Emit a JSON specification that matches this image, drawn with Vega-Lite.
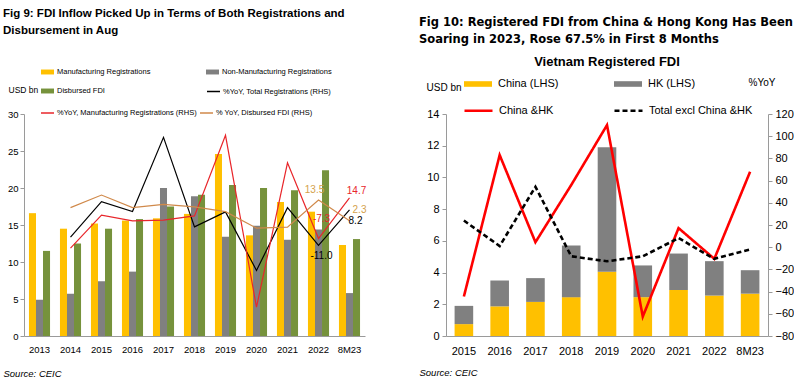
{
  "$schema": "https://vega.github.io/schema/vega-lite/v6.json",
  "padding": {"left": 3, "top": 8, "right": 0, "bottom": 0},
  "spacing": 52,
  "config": {
    "view": {"stroke": null},
    "font": "Liberation Sans",
    "axis": {"grid": false, "domainColor": "#9a9a9a", "tickColor": "#9a9a9a", "labelColor": "#000000", "titleColor": "#000000", "titleFontWeight": "normal", "labelFont": "Liberation Sans", "titleFont": "Liberation Sans"},
    "legend": {"labelColor": "#000000", "labelFont": "Liberation Sans"},
    "text": {"font": "Liberation Sans"}
  },
  "hconcat": [
    {
      "title": {"text": ["Fig 9: FDI Inflow Picked Up in Terms of Both Registrations and", "Disbursement in Aug"], "anchor": "start", "frame": "bounds", "font": "Liberation Sans", "fontSize": 11.5, "fontWeight": "bold", "lineHeight": 17, "offset": 28, "color": "#000000"},
      "width": 341,
      "height": 222,
      "layer": [
        {
          "data": {"values": [
            {"year": "2013", "series": "Manufacturing Registrations", "value": 16.6},
            {"year": "2013", "series": "Non-Manufacturing Registrations", "value": 4.9},
            {"year": "2013", "series": "Disbursed FDI", "value": 11.5},
            {"year": "2014", "series": "Manufacturing Registrations", "value": 14.5},
            {"year": "2014", "series": "Non-Manufacturing Registrations", "value": 5.7},
            {"year": "2014", "series": "Disbursed FDI", "value": 12.5},
            {"year": "2015", "series": "Manufacturing Registrations", "value": 15.2},
            {"year": "2015", "series": "Non-Manufacturing Registrations", "value": 7.4},
            {"year": "2015", "series": "Disbursed FDI", "value": 14.5},
            {"year": "2016", "series": "Manufacturing Registrations", "value": 15.6},
            {"year": "2016", "series": "Non-Manufacturing Registrations", "value": 8.7},
            {"year": "2016", "series": "Disbursed FDI", "value": 15.8},
            {"year": "2017", "series": "Manufacturing Registrations", "value": 15.9},
            {"year": "2017", "series": "Non-Manufacturing Registrations", "value": 20.0},
            {"year": "2017", "series": "Disbursed FDI", "value": 17.5},
            {"year": "2018", "series": "Manufacturing Registrations", "value": 16.5},
            {"year": "2018", "series": "Non-Manufacturing Registrations", "value": 18.9},
            {"year": "2018", "series": "Disbursed FDI", "value": 19.1},
            {"year": "2019", "series": "Manufacturing Registrations", "value": 24.6},
            {"year": "2019", "series": "Non-Manufacturing Registrations", "value": 13.4},
            {"year": "2019", "series": "Disbursed FDI", "value": 20.4},
            {"year": "2020", "series": "Manufacturing Registrations", "value": 13.6},
            {"year": "2020", "series": "Non-Manufacturing Registrations", "value": 14.9},
            {"year": "2020", "series": "Disbursed FDI", "value": 20.0},
            {"year": "2021", "series": "Manufacturing Registrations", "value": 18.1},
            {"year": "2021", "series": "Non-Manufacturing Registrations", "value": 13.0},
            {"year": "2021", "series": "Disbursed FDI", "value": 19.7},
            {"year": "2022", "series": "Manufacturing Registrations", "value": 16.8},
            {"year": "2022", "series": "Non-Manufacturing Registrations", "value": 14.4},
            {"year": "2022", "series": "Disbursed FDI", "value": 22.4},
            {"year": "8M23", "series": "Manufacturing Registrations", "value": 12.3},
            {"year": "8M23", "series": "Non-Manufacturing Registrations", "value": 5.8},
            {"year": "8M23", "series": "Disbursed FDI", "value": 13.1}
          ]},
          "mark": {"type": "bar"},
          "encoding": {
            "x": {"field": "year", "type": "ordinal",
              "scale": {"domain": ["2013", "2014", "2015", "2016", "2017", "2018", "2019", "2020", "2021", "2022", "8M23"], "paddingInner": 0.32, "paddingOuter": 0.16},
              "axis": {"title": "Source: CEIC", "labelAngle": 0, "ticks": false, "labelFontSize": 9.5, "labelPadding": 8, "titleFontSize": 9.5, "titleFontStyle": "italic", "titleAnchor": "start", "titleAlign": "left", "titleBaseline": "middle", "titleX": -21, "titleY": 37}},
            "xOffset": {"field": "series", "type": "nominal", "scale": {"domain": ["Manufacturing Registrations", "Non-Manufacturing Registrations", "Disbursed FDI"], "paddingInner": 0, "paddingOuter": 0}},
            "y": {"field": "value", "type": "quantitative",
              "scale": {"domain": [0, 30], "nice": false},
              "axis": {"title": "USD bn", "values": [0, 5, 10, 15, 20, 25, 30], "tickSize": 4, "labelPadding": 2, "labelFontSize": 9.5, "titleAngle": 0, "titleAlign": "left", "titleBaseline": "middle", "titleX": -16, "titleY": -25, "titleFontSize": 8.5}},
            "color": {"field": "series", "type": "nominal",
              "scale": {"domain": ["Manufacturing Registrations", "Non-Manufacturing Registrations", "Disbursed FDI"], "range": ["#FFC000", "#808080", "#76923C"]},
              "legend": {"orient": "none", "legendX": 16, "legendY": -49.5, "columns": 2, "direction": "horizontal", "title": null, "symbolType": "M-1,-0.38H1V0.38H-1Z", "symbolSize": 169, "labelFontSize": 7.5, "labelLimit": 400, "labelOffset": 2, "rowPadding": 8, "columnPadding": 54}}
          }
        },
        {
          "layer": [
            {
              "data": {"values": [
                {"year": "2014", "series": "%YoY, Total Registrations (RHS)", "yoy": -6.5},
                {"year": "2015", "series": "%YoY, Total Registrations (RHS)", "yoy": 12.6},
                {"year": "2016", "series": "%YoY, Total Registrations (RHS)", "yoy": 7.3},
                {"year": "2017", "series": "%YoY, Total Registrations (RHS)", "yoy": 47.4},
                {"year": "2018", "series": "%YoY, Total Registrations (RHS)", "yoy": -1.0},
                {"year": "2019", "series": "%YoY, Total Registrations (RHS)", "yoy": 7.1},
                {"year": "2020", "series": "%YoY, Total Registrations (RHS)", "yoy": -24.6},
                {"year": "2021", "series": "%YoY, Total Registrations (RHS)", "yoy": 9.4},
                {"year": "2022", "series": "%YoY, Total Registrations (RHS)", "yoy": -11.0},
                {"year": "8M23", "series": "%YoY, Total Registrations (RHS)", "yoy": 8.2}
              ]},
              "mark": {"type": "line", "strokeWidth": 1.2},
              "encoding": {
                "x": {"field": "year", "type": "ordinal"},
                "y": {"field": "yoy", "type": "quantitative",
                  "scale": {"domain": [-60, 60], "nice": false},
                  "axis": {"orient": "right", "title": "%YoY", "values": [-60, -40, -20, 0, 20, 40, 60], "tickSize": 4, "labelPadding": 2, "labelFontSize": 9.5, "titleAngle": 0, "titleAlign": "left", "titleBaseline": "middle", "titleX": -20, "titleY": -25, "titleFontSize": 8.5}},
                "stroke": {"field": "series", "type": "nominal",
                  "scale": {"domain": ["%YoY, Total Registrations (RHS)"], "range": ["#000000"]},
                  "legend": {"orient": "none", "legendX": 182, "legendY": -30, "title": null, "symbolType": "stroke", "symbolSize": 169, "symbolStrokeWidth": 1.5, "labelFontSize": 7.5, "labelLimit": 400, "labelOffset": 2}}
              }
            },
            {
              "data": {"values": [
                {"year": "2014", "series": "%YoY, Manufacturing Registrations (RHS)", "yoy": -12.5},
                {"year": "2015", "series": "%YoY, Manufacturing Registrations (RHS)", "yoy": 5.3},
                {"year": "2016", "series": "%YoY, Manufacturing Registrations (RHS)", "yoy": 2.2},
                {"year": "2017", "series": "%YoY, Manufacturing Registrations (RHS)", "yoy": 2.6},
                {"year": "2018", "series": "%YoY, Manufacturing Registrations (RHS)", "yoy": 4.9},
                {"year": "2019", "series": "%YoY, Manufacturing Registrations (RHS)", "yoy": 48.5},
                {"year": "2020", "series": "%YoY, Manufacturing Registrations (RHS)", "yoy": -44.4},
                {"year": "2021", "series": "%YoY, Manufacturing Registrations (RHS)", "yoy": 33.6},
                {"year": "2022", "series": "%YoY, Manufacturing Registrations (RHS)", "yoy": -7.3},
                {"year": "8M23", "series": "%YoY, Manufacturing Registrations (RHS)", "yoy": 14.7},
                {"year": "2014", "series": "% YoY, Disbursed FDI (RHS)", "yoy": 9.4},
                {"year": "2015", "series": "% YoY, Disbursed FDI (RHS)", "yoy": 16.2},
                {"year": "2016", "series": "% YoY, Disbursed FDI (RHS)", "yoy": 9.4},
                {"year": "2017", "series": "% YoY, Disbursed FDI (RHS)", "yoy": 11.2},
                {"year": "2018", "series": "% YoY, Disbursed FDI (RHS)", "yoy": 9.8},
                {"year": "2019", "series": "% YoY, Disbursed FDI (RHS)", "yoy": 7.2},
                {"year": "2020", "series": "% YoY, Disbursed FDI (RHS)", "yoy": -1.7},
                {"year": "2021", "series": "% YoY, Disbursed FDI (RHS)", "yoy": -1.2},
                {"year": "2022", "series": "% YoY, Disbursed FDI (RHS)", "yoy": 13.5},
                {"year": "8M23", "series": "% YoY, Disbursed FDI (RHS)", "yoy": 2.3}
              ]},
              "mark": {"type": "line", "strokeWidth": 1.2},
              "encoding": {
                "x": {"field": "year", "type": "ordinal"},
                "y": {"field": "yoy", "type": "quantitative", "axis": null},
                "color": {"field": "series", "type": "nominal",
                  "scale": {"domain": ["%YoY, Manufacturing Registrations (RHS)", "% YoY, Disbursed FDI (RHS)"], "range": ["#E8262B", "#D0894A"]},
                  "legend": {"orient": "none", "legendX": 16, "legendY": -8.5, "columns": 2, "direction": "horizontal", "title": null, "symbolType": "stroke", "symbolSize": 169, "symbolStrokeWidth": 1.5, "labelFontSize": 7.5, "labelLimit": 400, "labelOffset": 2, "columnPadding": 0}}
              }
            },
            {
              "data": {"values": [{"year": "2022", "yoy": 13.5, "label": "13.5"}]},
              "mark": {"type": "text", "dx": -4, "dy": -10, "fontSize": 10, "color": "#D4A24C"},
              "encoding": {"x": {"field": "year", "type": "ordinal"}, "y": {"field": "yoy", "type": "quantitative", "axis": null}, "text": {"field": "label"}}
            },
            {
              "data": {"values": [{"year": "2022", "yoy": -7.3, "label": "-7.3"}]},
              "mark": {"type": "text", "dx": 3, "dy": -20, "fontSize": 10, "color": "#E8262B"},
              "encoding": {"x": {"field": "year", "type": "ordinal"}, "y": {"field": "yoy", "type": "quantitative", "axis": null}, "text": {"field": "label"}}
            },
            {
              "data": {"values": [{"year": "2022", "yoy": -11.0, "label": "-11.0"}]},
              "mark": {"type": "text", "dx": 3, "dy": 11, "fontSize": 10, "color": "#000000"},
              "encoding": {"x": {"field": "year", "type": "ordinal"}, "y": {"field": "yoy", "type": "quantitative", "axis": null}, "text": {"field": "label"}}
            },
            {
              "data": {"values": [{"year": "8M23", "yoy": 14.7, "label": "14.7"}]},
              "mark": {"type": "text", "dx": 7, "dy": -7, "fontSize": 10, "color": "#E8262B"},
              "encoding": {"x": {"field": "year", "type": "ordinal"}, "y": {"field": "yoy", "type": "quantitative", "axis": null}, "text": {"field": "label"}}
            },
            {
              "data": {"values": [{"year": "8M23", "yoy": 2.3, "label": "2.3"}]},
              "mark": {"type": "text", "dx": 10, "dy": -11, "fontSize": 10, "color": "#D4A24C"},
              "encoding": {"x": {"field": "year", "type": "ordinal"}, "y": {"field": "yoy", "type": "quantitative", "axis": null}, "text": {"field": "label"}}
            },
            {
              "data": {"values": [{"year": "8M23", "yoy": 8.2, "label": "8.2"}]},
              "mark": {"type": "text", "dx": 6, "dy": 11, "fontSize": 10, "color": "#000000"},
              "encoding": {"x": {"field": "year", "type": "ordinal"}, "y": {"field": "yoy", "type": "quantitative", "axis": null}, "text": {"field": "label"}}
            }
          ]
        }
      ],
      "resolve": {"scale": {"y": "independent", "color": "independent"}, "axis": {"y": "independent"}, "legend": {"color": "independent"}}
    },
    {
      "title": {"text": ["Fig 10: Registered FDI from China & Hong Kong Has Been", "Soaring in 2023, Rose 67.5% in First 8 Months"], "anchor": "start", "frame": "bounds", "font": "DejaVu Sans", "fontSize": 11.5, "fontWeight": "bold", "lineHeight": 17, "offset": 11, "color": "#000000"},
      "vconcat": [
        {
          "title": {"text": "Vietnam Registered FDI", "fontSize": 13, "fontWeight": "bold", "anchor": "middle", "offset": 0, "color": "#000000"},
          "width": 322,
          "height": 222,
          "layer": [
            {
              "data": {"values": [
                {"year": "2015", "series": "China (LHS)", "value": 0.75},
                {"year": "2015", "series": "HK (LHS)", "value": 1.15},
                {"year": "2016", "series": "China (LHS)", "value": 1.87},
                {"year": "2016", "series": "HK (LHS)", "value": 1.63},
                {"year": "2017", "series": "China (LHS)", "value": 2.15},
                {"year": "2017", "series": "HK (LHS)", "value": 1.5},
                {"year": "2018", "series": "China (LHS)", "value": 2.45},
                {"year": "2018", "series": "HK (LHS)", "value": 3.25},
                {"year": "2019", "series": "China (LHS)", "value": 4.05},
                {"year": "2019", "series": "HK (LHS)", "value": 7.85},
                {"year": "2020", "series": "China (LHS)", "value": 2.45},
                {"year": "2020", "series": "HK (LHS)", "value": 2.0},
                {"year": "2021", "series": "China (LHS)", "value": 2.9},
                {"year": "2021", "series": "HK (LHS)", "value": 2.3},
                {"year": "2022", "series": "China (LHS)", "value": 2.55},
                {"year": "2022", "series": "HK (LHS)", "value": 2.17},
                {"year": "8M23", "series": "China (LHS)", "value": 2.67},
                {"year": "8M23", "series": "HK (LHS)", "value": 1.48}
              ]},
              "mark": {"type": "bar"},
              "encoding": {
                "x": {"field": "year", "type": "ordinal",
                  "scale": {"domain": ["2015", "2016", "2017", "2018", "2019", "2020", "2021", "2022", "8M23"], "paddingInner": 0.48, "paddingOuter": 0.24},
                  "axis": {"title": "Source: CEIC", "labelAngle": 0, "ticks": false, "labelFontSize": 11, "labelPadding": 9, "titleFontSize": 9.5, "titleFontStyle": "italic", "titleAnchor": "start", "titleAlign": "left", "titleBaseline": "middle", "titleX": -27, "titleY": 36}},
                "y": {"field": "value", "type": "quantitative", "stack": "zero",
                  "scale": {"domain": [0, 14], "nice": false},
                  "axis": {"title": "USD bn", "values": [0, 2, 4, 6, 8, 10, 12, 14], "tickSize": 4, "labelPadding": 3, "labelFontSize": 11, "titleAngle": 0, "titleAlign": "left", "titleBaseline": "middle", "titleX": -20, "titleY": -27, "titleFontSize": 10}},
                "order": {"field": "series", "sort": "ascending"},
                "color": {"field": "series", "type": "nominal",
                  "scale": {"domain": ["China (LHS)", "HK (LHS)"], "range": ["#FFC000", "#808080"]},
                  "legend": {"orient": "none", "legendX": 17, "legendY": -45, "columns": 2, "direction": "horizontal", "title": null, "symbolType": "M-1,-0.2H1V0.2H-1Z", "symbolSize": 784, "labelFontSize": 11, "labelLimit": 400, "labelOffset": 5, "columnPadding": 54}}
              }
            },
            {
              "data": {"values": [
                {"year": "2015", "series": "China &HK", "yoy": -44.4},
                {"year": "2016", "series": "China &HK", "yoy": 83},
                {"year": "2017", "series": "China &HK", "yoy": 4.5},
                {"year": "2018", "series": "China &HK", "yoy": 56},
                {"year": "2019", "series": "China &HK", "yoy": 110},
                {"year": "2020", "series": "China &HK", "yoy": -62.5},
                {"year": "2021", "series": "China &HK", "yoy": 17.2},
                {"year": "2022", "series": "China &HK", "yoy": -10.5},
                {"year": "8M23", "series": "China &HK", "yoy": 68},
                {"year": "2015", "series": "Total excl China &HK", "yoy": 24},
                {"year": "2016", "series": "Total excl China &HK", "yoy": 1},
                {"year": "2017", "series": "Total excl China &HK", "yoy": 54.4},
                {"year": "2018", "series": "Total excl China &HK", "yoy": -8.2},
                {"year": "2019", "series": "Total excl China &HK", "yoy": -12.7},
                {"year": "2020", "series": "Total excl China &HK", "yoy": -8.2},
                {"year": "2021", "series": "Total excl China &HK", "yoy": 8.2},
                {"year": "2022", "series": "Total excl China &HK", "yoy": -10.5},
                {"year": "8M23", "series": "Total excl China &HK", "yoy": -2}
              ]},
              "mark": {"type": "line", "strokeWidth": 2.6},
              "encoding": {
                "x": {"field": "year", "type": "ordinal"},
                "y": {"field": "yoy", "type": "quantitative",
                  "scale": {"domain": [-80, 120], "nice": false},
                  "axis": {"orient": "right", "title": "%YoY", "values": [-80, -60, -40, -20, 0, 20, 40, 60, 80, 100, 120], "tickSize": 4, "labelPadding": 3, "labelFontSize": 11, "titleAngle": 0, "titleAlign": "left", "titleBaseline": "middle", "titleX": -20, "titleY": -32, "titleFontSize": 10}},
                "stroke": {"field": "series", "type": "nominal",
                  "scale": {"domain": ["China &HK", "Total excl China &HK"], "range": ["#FF0000", "#000000"]},
                  "legend": {"orient": "none", "legendX": 17, "legendY": -19, "columns": 2, "direction": "horizontal", "title": null, "symbolType": "stroke", "symbolSize": 784, "symbolStrokeWidth": 2.5, "labelFontSize": 11, "labelLimit": 400, "labelOffset": 5, "columnPadding": 55}},
                "strokeDash": {"field": "series", "type": "nominal",
                  "scale": {"domain": ["China &HK", "Total excl China &HK"], "range": [[1, 0], [5, 3]]},
                  "legend": {"orient": "none", "legendX": 17, "legendY": -19, "columns": 2, "direction": "horizontal", "title": null, "symbolType": "stroke", "symbolSize": 784, "symbolStrokeWidth": 2.5, "labelFontSize": 11, "labelLimit": 400, "labelOffset": 5, "columnPadding": 55}}
              }
            }
          ],
          "resolve": {"scale": {"y": "independent"}, "axis": {"y": "independent"}}
        }
      ],
      "resolve": {"scale": {"color": "independent", "stroke": "independent", "strokeDash": "independent"}, "legend": {"color": "independent", "stroke": "independent", "strokeDash": "independent"}}
    }
  ],
  "resolve": {"scale": {"color": "independent", "stroke": "independent", "strokeDash": "independent"}, "legend": {"color": "independent", "stroke": "independent", "strokeDash": "independent"}}
}
